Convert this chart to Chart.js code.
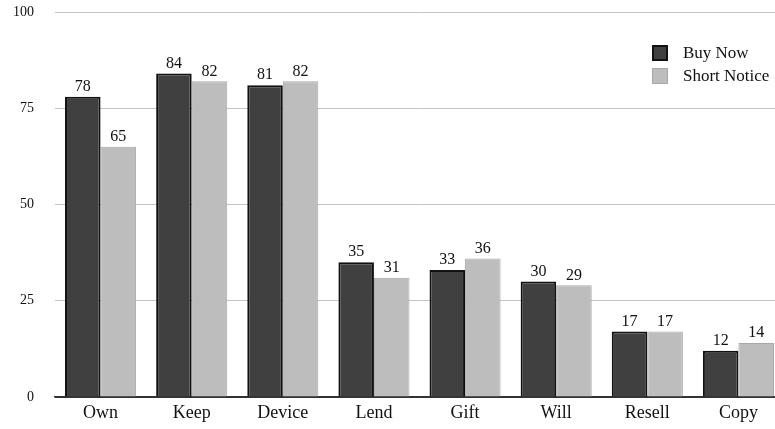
<!DOCTYPE html>
<html>
<head>
<meta charset="utf-8">
<script src="https://cdn.jsdelivr.net/npm/chart.js@4"></script>
<style>
	html, body { margin: 0; padding: 0; background: #fff; overflow: hidden; }
	#wrap { position: relative; width: 784px; height: 429px; }
	#legend { position: absolute; left: 652px; top: 41px; font-family: "Liberation Serif", serif; font-size: 17px; color: #111; }
	.legend-item { display: flex; align-items: center; height: 23px; }
	.legend-box { width: 16px; height: 16px; box-sizing: border-box; margin-right: 15px; }
</style>
</head>
<body>
<div id="wrap">
	<canvas id="chart" width="784" height="429"></canvas>
	<div id="legend"></div>
</div>
<script>
const categories = ["Own", "Keep", "Device", "Lend", "Gift", "Will", "Resell", "Copy"];
const seriesNames = ["Buy Now", "Short Notice"];
const buyNow = [78, 84, 81, 35, 33, 30, 17, 12];
const shortNotice = [65, 82, 82, 31, 36, 29, 17, 14];
const yTicks = [0, 25, 50, 75, 100];

const fills = ["#404040", "#bdbdbd"];
const borders = ["#111111", "#a8a8a8"];
const borderWidths = [2, 1];
const serif = "'Liberation Serif', serif";

const valueLabels = {
	id: "valueLabels",
	afterDatasetsDraw(chart) {
		const { ctx } = chart;
		ctx.save();
		ctx.font = "16px " + serif;
		ctx.fillStyle = "#111";
		ctx.textAlign = "center";
		ctx.textBaseline = "bottom";
		chart.data.datasets.forEach((ds, i) => {
			chart.getDatasetMeta(i).data.forEach((bar, j) => {
				ctx.fillText(ds.data[j], bar.x, bar.y - 2);
			});
		});
		ctx.restore();
	},
};

const ctx = document.getElementById("chart").getContext("2d");

window.chart = new Chart(ctx, {
	type: "bar",
	data: {
		labels: categories,
		datasets: [
			{
				label: seriesNames[0],
				data: buyNow,
				backgroundColor: fills[0],
				borderColor: borders[0],
				borderWidth: borderWidths[0],
			},
			{
				label: seriesNames[1],
				data: shortNotice,
				backgroundColor: fills[1],
				borderColor: borders[1],
				borderWidth: borderWidths[1],
			},
		],
	},
	options: {
		responsive: false,
		animation: false,
		layout: { padding: { top: 12, bottom: 0, left: 0, right: 0 } },
		categoryPercentage: 0.78,
		barPercentage: 1.0,
		plugins: {
			legend: { display: false },
			tooltip: { enabled: false },
		},
		scales: {
			x: {
				grid: { display: false, drawTicks: false },
				border: { color: "#333", width: 1.5 },
				ticks: { font: { family: serif, size: 18 }, color: "#111", padding: 5 },
				afterFit: (axis) => { axis.height = 32; },
			},
			y: {
				min: 0,
				max: 100,
				afterBuildTicks: (axis) => { axis.ticks = yTicks.map((v) => ({ value: v })); },
				border: { display: false },
				grid: {
					color: (c) => (c.tick && c.tick.value === 0 ? "#333" : "#c4c4c4"),
					lineWidth: 1,
					drawTicks: false,
				},
				ticks: { font: { family: serif, size: 14 }, color: "#111", padding: 21 },
				afterFit: (axis) => {
					axis.width = 55;
					axis.paddingTop = 0;
					axis.paddingBottom = 0;
				},
			},
		},
	},
	plugins: [valueLabels],
});

document.getElementById("legend").innerHTML = seriesNames
	.map(
		(name, i) =>
			`<div class="legend-item"><span class="legend-box" style="background:${fills[i]};border:${borderWidths[i]}px solid ${borders[i]}"></span>${name}</div>`
	)
	.join("");
</script>
</body>
</html>
